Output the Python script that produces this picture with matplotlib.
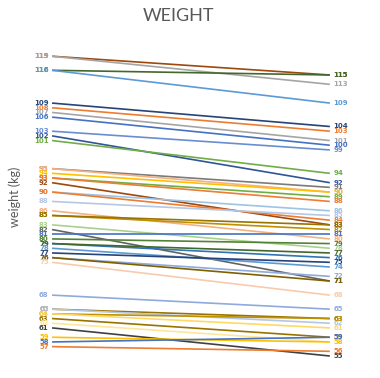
import matplotlib
matplotlib.use("Agg")
import matplotlib.pyplot as plt

# weight at start (left) and end (right) for each person, with series colour
start_weight = [119, 119, 116, 116, 109, 108, 107, 106, 103, 102, 101,
                95, 95, 94, 93, 93, 92, 90, 90, 88, 86, 85, 85, 83,
                82, 81, 80, 79, 79, 78, 77, 76, 76, 75,
                68, 65, 65, 64, 64, 63, 62, 61, 59, 58, 57]
end_weight = [115, 113, 115, 109, 104, 103, 101, 100, 99, 92, 94,
              91, 90, 90, 89, 88, 83, 86, 84, 85, 80, 82, 83, 78,
              71, 81, 79, 76, 77, 74, 75, 72, 71, 68,
              65, 63, 62, 63, 61, 59, 58, 55, 58, 59, 56]
colors = ["#9E480E", "#A5A5A5", "#43682B", "#5B9BD5", "#264478", "#ED7D31", "#A5A5A5",
          "#4472C4", "#698ED0", "#2F5597", "#70AD47",
          "#7B7B7B", "#F4B183", "#FFC000", "#70AD47", "#ED7D31", "#9E480E", "#9DC3E6",
          "#ED7D31", "#B4C7E7", "#F4B183", "#BF9000", "#997300", "#A9D18E",
          "#636363", "#4472C4", "#548235", "#2E75B6", "#43682B", "#5B9BD5", "#264478",
          "#8FAADC", "#7F6000", "#F8CBAD",
          "#8FAADC", "#997300", "#B4C7E7", "#BF9000", "#FFD966", "#997300", "#FFE699",
          "#404040", "#FFC000", "#4472C4", "#ED7D31"]

fig = plt.figure(figsize=(3.8, 3.78), dpi=100)
ax = fig.add_axes([0.137, 0.0582, 0.731, 0.7992])
ax.set_xlim(0, 1)
ax.set_ylim(55, 119.5)

for s, e, c in zip(start_weight, end_weight, colors):
    ax.plot([0, 1], [s, e], color=c, lw=1.2, clip_on=False, solid_capstyle="butt")
    ax.text(-0.012, s, str(s), ha="right", va="center", fontsize=5,
            color=c, family="DejaVu Sans", fontweight="bold")
    ax.text(1.012, e, str(e), ha="left", va="center", fontsize=5,
            color=c, family="DejaVu Sans", fontweight="bold")

for sp in ax.spines.values():
    sp.set_visible(False)
ax.set_xticks([])
ax.set_yticks([])

fig.text(0.47, 0.957, "WEIGHT", ha="center", va="center", fontsize=13,
         color="#595959", family="Lato")
fig.text(0.04, 0.48, "weight (kg)", ha="center", va="center", rotation=90,
         fontsize=9, color="#595959", family="Lato")

fig.savefig("out.png", dpi=100, facecolor="white")
